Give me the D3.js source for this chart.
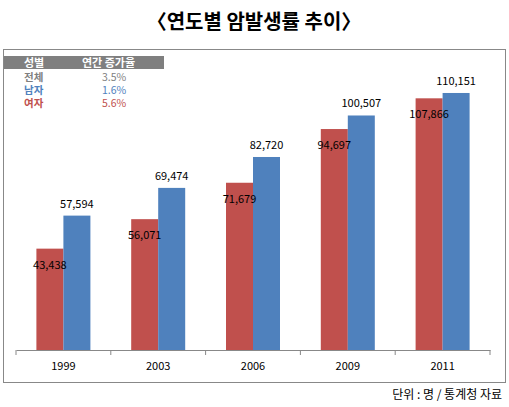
<!DOCTYPE html>
<html><head><meta charset="utf-8">
<script src="https://cdn.jsdelivr.net/npm/d3@7"></script>
<style>body{margin:0;background:#fff}</style>
</head><body>
<script>
const years = ['1999', '2003', '2006', '2009', '2011'];
const female = [43438, 56071, 71679, 94697, 107866];
const male = [57594, 69474, 82720, 100507, 110151];
const legendRows = [['전체', '3.5%', '#7f7f7f'], ['남자', '1.6%', '#4f81bd'], ['여자', '5.6%', '#c0504d']];

const svg = d3.select('body').append('svg').attr('width', 509).attr('height', 407)
    .style('font-family', '"Noto Sans CJK KR", sans-serif');

svg.append('text').attr('x', 254).attr('y', 29).attr('text-anchor', 'middle')
    .attr('font-size', 20).attr('font-weight', 'bold').text('〈연도별 암발생률 추이〉');

svg.append('rect').attr('x', 3.5).attr('y', 49.5).attr('width', 502).attr('height', 333)
    .attr('fill', 'none').attr('stroke', '#888');

// header table
svg.append('rect').attr('x', 4).attr('y', 56).attr('width', 160).attr('height', 13).attr('fill', '#7f7f7f');
svg.append('text').attr('x', 24).attr('y', 67).attr('fill', '#fff').attr('font-size', 11).attr('font-weight', 'bold').text('성별');
svg.append('text').attr('x', 82).attr('y', 67).attr('fill', '#fff').attr('font-size', 11).attr('font-weight', 'bold').text('연간 증가율');
legendRows.forEach((r, i) => {
    const y = 81 + i * 13;
    svg.append('text').attr('x', 24).attr('y', y).attr('fill', r[2]).attr('font-size', 10.5).attr('font-weight', 'bold').text(r[0]);
    svg.append('text').attr('x', 102).attr('y', y).attr('fill', r[2]).attr('font-size', 10.5).text(r[1]);
});

const x = d3.scaleBand().domain(years).range([16, 490]);
const y = d3.scaleLinear().domain([0, 120000]).range([350, 70]);
const bw = 27;

const g = svg.append('g');
years.forEach((yr, i) => {
    const cx = x(yr) + x.bandwidth() / 2;
    g.append('rect').attr('x', cx - bw).attr('y', y(female[i])).attr('width', bw)
        .attr('height', y(0) - y(female[i])).attr('fill', '#c0504d');
    g.append('rect').attr('x', cx).attr('y', y(male[i])).attr('width', bw)
        .attr('height', y(0) - y(male[i])).attr('fill', '#4f81bd');
    g.append('text').attr('x', cx - bw / 2).attr('y', y(female[i]) + 20).attr('text-anchor', 'middle')
        .attr('font-size', 11).text(d3.format(',')(female[i]));
    g.append('text').attr('x', cx + bw / 2).attr('y', y(male[i]) - 8).attr('text-anchor', 'middle')
        .attr('font-size', 11).text(d3.format(',')(male[i]));
});

const ax = svg.append('g').attr('transform', 'translate(0,350)')
    .call(d3.axisBottom(x).tickSize(0).tickPadding(12));
ax.select('.domain').attr('stroke', '#888');
ax.selectAll('text').attr('font-size', 11).attr('font-family', '"Noto Sans CJK KR", sans-serif').attr('fill', '#000');
x.domain().concat(['end']).forEach((d, i) => {
    const xx = 16 + i * x.bandwidth();
    ax.append('line').attr('x1', xx).attr('x2', xx).attr('y1', 0).attr('y2', 5).attr('stroke', '#888');
});

svg.append('text').attr('x', 502).attr('y', 399).attr('text-anchor', 'end').attr('font-size', 12).text('단위 : 명 / 통계청 자료');
</script>
</body></html>
